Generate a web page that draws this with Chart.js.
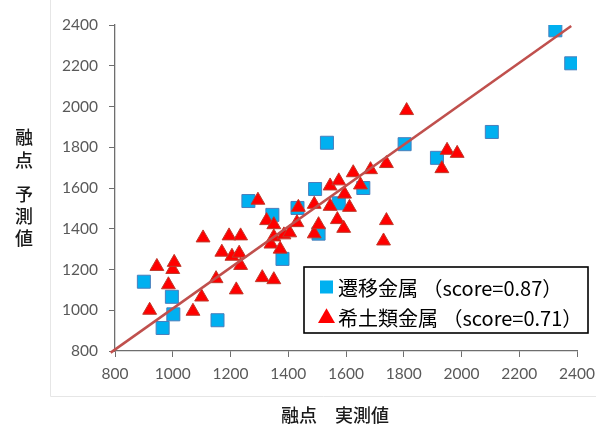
<!DOCTYPE html>
<html>
<head>
<meta charset="utf-8">
<script src="https://cdn.jsdelivr.net/npm/chart.js@4.4.1/dist/chart.umd.min.js"></script>
<style>
  html, body { margin: 0; padding: 0; background: #ffffff; }
  #wrap { width: 596px; height: 425px; position: relative; }
</style>
</head>
<body>
<div id="wrap"><canvas id="c" width="596" height="425"></canvas></div>
<script>
// Melting point: measured (x) vs predicted (y)
const seriesNames = ['遷移金属', '希土類金属'];
const seriesScores = ['0.87', '0.71'];

const transitionMeasured = [900, 965, 997, 1002, 1155, 1262, 1345, 1380, 1432, 1493, 1534, 1505, 1575, 1660, 1803, 1915, 2105, 2325, 2380];
const transitionPredicted = [1140, 913, 1066, 980, 951, 1536, 1468, 1252, 1502, 1595, 1822, 1376, 1525, 1600, 1815, 1748, 1875, 2374, 2212];

const rareEarthMeasured = [920, 945, 985, 1000, 1005, 1070, 1100, 1105, 1150, 1170, 1195, 1205, 1230, 1235, 1235, 1220, 1295, 1310, 1350, 1325, 1350, 1340, 1350, 1372, 1385, 1405, 1430, 1435, 1490, 1490, 1505, 1545, 1545, 1575, 1570, 1595, 1592, 1612, 1625, 1650, 1685, 1740, 1740, 1730, 1810, 1950, 1985, 1932];
const rareEarthPredicted = [1000, 1215, 1125, 1200, 1235, 995, 1065, 1355, 1155, 1285, 1365, 1265, 1280, 1365, 1220, 1100, 1540, 1160, 1150, 1440, 1420, 1325, 1360, 1300, 1370, 1380, 1430, 1505, 1520, 1375, 1420, 1610, 1510, 1635, 1445, 1570, 1402, 1505, 1675, 1615, 1690, 1720, 1440, 1340, 1980, 1785, 1770, 1695];

// Trend line end points
const trendX = [785, 2380];
const trendY = [792, 2395];

const axisTicks = [800, 1000, 1200, 1400, 1600, 1800, 2000, 2200, 2400];
const xTitle = '融点　実測値';
const yTitleLines = ['融', '点', '', '予', '測', '値'];

const toPoints = (xs, ys) => xs.map((x, i) => ({ x: x, y: ys[i] }));

const COLORS = {
  blue: '#00B0F0', blueEdge: '#4A7EBB',
  red: '#FF0000', redEdge: '#C0392B',
  trend: '#C0504D', axis: '#6E6E6E', tick: '#595959'
};

const decorations = {
  id: 'decorations',
  beforeDraw(chart) {
    const ctx = chart.ctx;
    ctx.save();
    ctx.fillStyle = '#ffffff';
    ctx.fillRect(0, 0, chart.width, chart.height);
    ctx.strokeStyle = '#E6E6E6';
    ctx.lineWidth = 1;
    ctx.beginPath();
    ctx.moveTo(50.5, 0);
    ctx.lineTo(50.5, 396.5);
    ctx.lineTo(596, 396.5);
    ctx.stroke();
    ctx.restore();
  },
  afterDraw(chart) {
    const ctx = chart.ctx;
    ctx.save();
    // axis titles
    ctx.fillStyle = '#1a1a1a';
    ctx.font = '500 18px "Noto Sans CJK JP"';
    ctx.textAlign = 'center';
    ctx.textBaseline = 'middle';
    const yPos = [137, 160, 0, 194, 216, 238];
    yTitleLines.forEach((ch, i) => { if (ch) ctx.fillText(ch, 24, yPos[i]); });
    ctx.fillText(xTitle, 335, 415);

    // legend box
    ctx.strokeStyle = '#000000';
    ctx.lineWidth = 1.6;
    ctx.strokeRect(304, 267, 284, 66);
    const rows = [287, 317];
    const styles = [
      { pointStyle: 'rect', radius: 9.2, fill: COLORS.blue },
      { pointStyle: 'triangle', radius: 9.8, fill: COLORS.red }
    ];
    ctx.font = '20px "Noto Sans CJK JP"';
    ctx.textAlign = 'left';
    seriesNames.forEach((name, i) => {
      const s = styles[i];
      ctx.fillStyle = s.fill;
      ctx.strokeStyle = s.fill;
      Chart.helpers.drawPoint(ctx, { pointStyle: s.pointStyle, radius: s.radius, rotation: 0, borderWidth: 0 }, 326.5, rows[i] + (i === 1 ? 1 : 0));
      ctx.fillStyle = '#000000';
      ctx.fillText(name + ' （score=' + seriesScores[i] + '）', 338, rows[i] + 1);
    });
    ctx.restore();
  }
};

const tickFont = { family: 'Lato', size: 15.5 };
const plainNumber = (v) => String(v);

new Chart(document.getElementById('c'), {
  type: 'scatter',
  data: {
    datasets: [
      {
        label: 'trend',
        type: 'line',
        data: toPoints(trendX, trendY),
        borderColor: COLORS.trend,
        borderWidth: 2.5,
        pointRadius: 0,
        fill: false,
        clip: false,
        order: 0
      },
      {
        label: seriesNames[1],
        data: toPoints(rareEarthMeasured, rareEarthPredicted),
        pointStyle: 'triangle',
        pointRadius: 8,
        backgroundColor: COLORS.red,
        borderColor: COLORS.redEdge,
        borderWidth: 1,
        order: 1
      },
      {
        label: seriesNames[0],
        data: toPoints(transitionMeasured, transitionPredicted),
        pointStyle: 'rect',
        pointRadius: 9.2,
        backgroundColor: COLORS.blue,
        borderColor: COLORS.blueEdge,
        borderWidth: 1,
        order: 2
      }
    ]
  },
  options: {
    responsive: false,
    animation: false,
    devicePixelRatio: 1,
    layout: { padding: { left: 0, right: 19, top: 25, bottom: 0 } },
    plugins: { legend: { display: false }, tooltip: { enabled: false } },
    scales: {
      x: {
        type: 'linear',
        min: 800, max: 2400,
        afterBuildTicks: (scale) => { scale.ticks = axisTicks.map(v => ({ value: v })); },
        afterFit: (scale) => { scale.height = 74; scale.paddingLeft = 0; scale.paddingRight = 0; },
        grid: { drawOnChartArea: false, drawTicks: true, tickLength: 6, color: COLORS.axis, lineWidth: 1 },
        border: { color: COLORS.axis, width: 1.3 },
        ticks: { font: tickFont, color: COLORS.tick, padding: 8, maxRotation: 0, autoSkip: false, callback: plainNumber }
      },
      y: {
        type: 'linear',
        min: 800, max: 2400,
        afterBuildTicks: (scale) => { scale.ticks = axisTicks.map(v => ({ value: v })); },
        afterFit: (scale) => { scale.width = 115; scale.paddingTop = 0; scale.paddingBottom = 0; },
        grid: { drawOnChartArea: false, drawTicks: true, tickLength: 6, color: COLORS.axis, lineWidth: 1 },
        border: { color: COLORS.axis, width: 1.3 },
        ticks: { font: tickFont, color: COLORS.tick, padding: 11, autoSkip: false, callback: plainNumber }
      }
    }
  },
  plugins: [decorations]
});
</script>
</body>
</html>
